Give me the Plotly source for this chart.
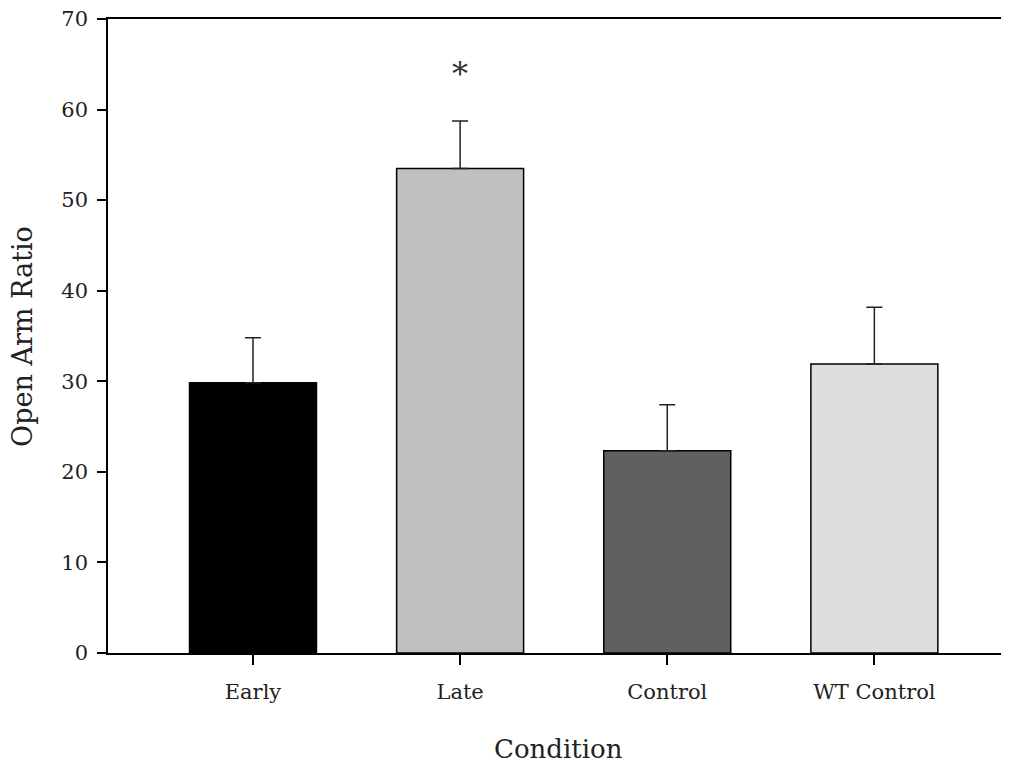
import plotly.graph_objects as go

categories = ["Early", "Late", "Control", "WT Control"]
means = [29.84, 53.5, 22.34, 31.9]
sem = [4.96, 5.24, 5.06, 6.27]
colors = ["#000000", "#c0c0c0", "#606060", "#dddddd"]
y_ticks = [0, 10, 20, 30, 40, 50, 60, 70]
sig_category = "Late"
sig_mark_y = 63.9

FONT = "DejaVu Serif"

fig = go.Figure()
fig.add_trace(go.Bar(
    x=categories,
    y=means,
    width=0.613,
    marker=dict(color=colors, line=dict(color="#000000", width=1.5)),
    error_y=dict(type="data", array=sem, symmetric=False, arrayminus=[0]*len(sem),
                 color="#222222", thickness=1.5, width=8),
    showlegend=False,
))

fig.add_annotation(x=sig_category, y=sig_mark_y, xref="x", yref="y",
                   text="*", showarrow=False, yanchor="middle",
                   font=dict(family=FONT, size=32, color="#333333"))

fig.add_annotation(x=0.5, y=-0.151, xref="paper", yref="paper",
                   text="Condition", showarrow=False, yanchor="middle",
                   font=dict(family=FONT, size=26, color="#222222"))
fig.add_annotation(x=-0.0955, y=0.5, xref="paper", yref="paper",
                   text="Open Arm Ratio", showarrow=False, textangle=-90,
                   xanchor="center", yanchor="middle",
                   font=dict(family=FONT, size=27, color="#222222"))

fig.update_layout(
    width=1001, height=758,
    margin=dict(l=100, r=0, t=11, b=113, autoexpand=False),
    paper_bgcolor="white", plot_bgcolor="white",
    font=dict(family=FONT, color="#222222"),
    bargap=0.387,
)
fig.update_xaxes(
    range=[-0.70, 3.65], showgrid=False, zeroline=False,
    showline=True, linecolor="#000000", linewidth=1.5, mirror=True,
    ticks="outside", ticklen=10, tickwidth=1.5, tickcolor="#000000",
    tickfont=dict(family=FONT, size=21, color="#222222"),
    ticklabelstandoff=9,
)
fig.update_yaxes(
    range=[0, 70], tickvals=y_ticks, showgrid=False, zeroline=False,
    showline=True, linecolor="#000000", linewidth=1.5, mirror=False,
    ticks="outside", ticklen=9, tickwidth=1.5, tickcolor="#000000",
    tickfont=dict(family=FONT, size=21, color="#222222"),
    ticklabelstandoff=5, ticklabeloverflow="allow",
)

fig.write_html("out.html")
